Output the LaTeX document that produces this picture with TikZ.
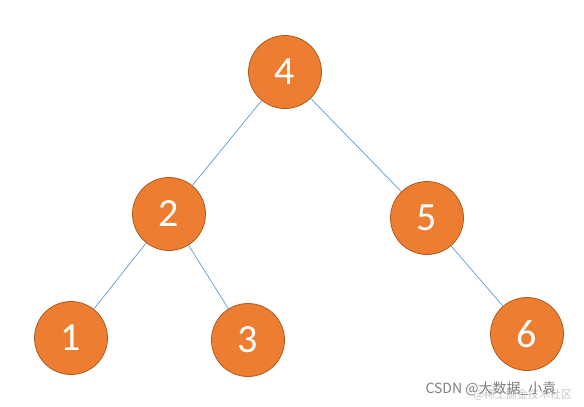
\documentclass[tikz,border=0pt]{standalone}
\usepackage{fontspec}
\setmainfont{Carlito}
\newfontfamily\cjk{Noto Sans CJK SC}
\definecolor{nodeorange}{HTML}{ED7D31}
\definecolor{nodeborder}{HTML}{AE5A21}
\definecolor{edgeblue}{HTML}{5B9BD5}
\definecolor{markgray}{HTML}{7F7F7F}

\begin{document}
\begin{tikzpicture}[x=1pt, y=-1pt,
                    every node/.style={align=center},
                    treenode/.style={circle, draw=nodeborder, line width=0.8pt, fill=nodeorange,
                                     minimum size=73pt, inner sep=0pt, text=white,
                                     font=\fontsize{40}{48}\selectfont},
                    treeedge/.style={draw=edgeblue, line width=0.7pt}]
  \useasboundingbox (0,0) rectangle (584,407);

  % Define nodes
  \node[treenode] (four)  at (285, 72)  {4};
  \node[treenode] (two)   at (169, 214) {2};
  \node[treenode] (five)  at (427, 218) {5};
  \node[treenode] (one)   at (71, 338)  {1};
  \node[treenode] (three) at (248, 340) {3};
  \node[treenode] (six)   at (527, 334) {6};

  % Define paths
  \draw[treeedge] (four) -- (two);
  \draw[treeedge] (four) -- (five);
  \draw[treeedge] (two) -- (one);
  \draw[treeedge] (two) -- (three);
  \draw[treeedge] (five) -- (six);

  % Watermark
  \node[text=markgray!45, font=\cjk\fontsize{11}{13}\selectfont, anchor=west] (mark2) at (470, 395) {@稀土掘金技术社区};
  \node[text=markgray, font=\cjk\fontsize{14}{16}\selectfont, anchor=west] (mark) at (422, 389) {CSDN @大数据\_小袁};

\end{tikzpicture}
\end{document}
